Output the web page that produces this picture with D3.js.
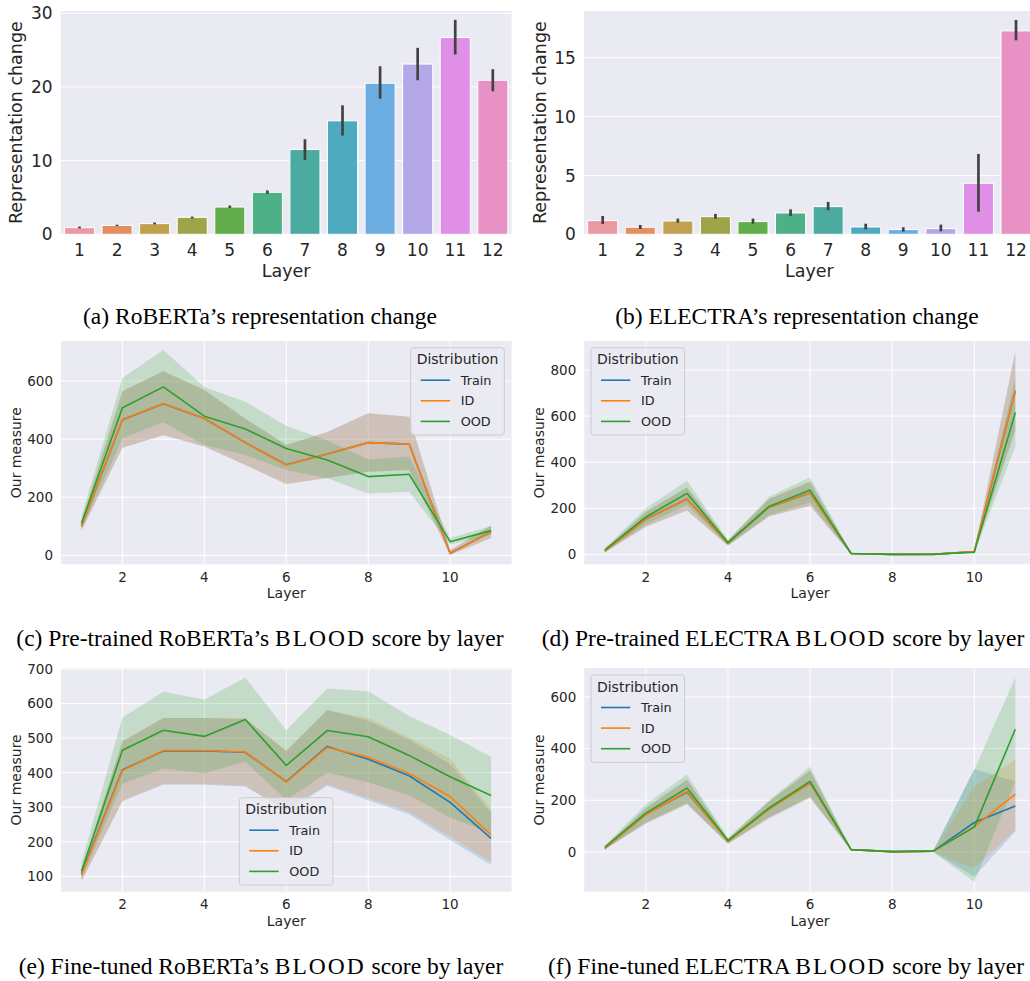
<!DOCTYPE html>
<html>
<head>
<meta charset="utf-8">
<script src="https://cdn.jsdelivr.net/npm/d3@7"></script>
<style>
  body { margin: 0; background: #fff; }
  svg { display: block; }
</style>
</head>
<body>
<div id="fig"></div>
<script>
// Six-panel figure: representation change bars + BLOOD score line plots

// ---- data ----
const barLayers = [1, 2, 3, 4, 5, 6, 7, 8, 9, 10, 11, 12];
const robertaChange   = [0.9, 1.2, 1.45, 2.3, 3.7, 5.7, 11.5, 15.4, 20.5, 23.1, 26.7, 20.9];
const robertaChangeLo = [0.8, 1.1, 1.35, 2.15, 3.55, 5.5, 10.1, 13.4, 18.4, 20.9, 24.4, 19.4];
const robertaChangeHi = [1.05, 1.3, 1.6, 2.4, 3.9, 5.95, 12.9, 17.5, 22.8, 25.3, 29.1, 22.4];
const electraChange   = [1.16, 0.6, 1.13, 1.5, 1.08, 1.81, 2.35, 0.62, 0.4, 0.48, 4.33, 17.27];
const electraChangeLo = [0.88, 0.45, 0.99, 1.33, 0.9, 1.56, 2.04, 0.42, 0.23, 0.25, 1.92, 16.47];
const electraChangeHi = [1.56, 0.79, 1.33, 1.73, 1.33, 2.12, 2.75, 0.9, 0.6, 0.82, 6.82, 18.2];

const lineLayers = [1, 2, 3, 4, 5, 6, 7, 8, 9, 10, 11];
const distributions = ["Train", "ID", "OOD"];

// (c) pre-trained RoBERTa
const ptRobTrain   = [101, 467, 522, 471, 388, 312, 349, 388, 383, 7, 81];
const ptRobTrainLo = [85, 370, 413, 375, 311, 246, 266, 288, 294, 1, 60];
const ptRobTrainHi = [118, 565, 634, 569, 470, 380, 425, 489, 477, 18, 102];
const ptRobID      = [101, 468, 523, 471, 388, 311, 349, 388, 383, 7, 81];
const ptRobIDLo    = [85, 370, 414, 375, 311, 245, 266, 288, 294, 1, 60];
const ptRobIDHi    = [118, 565, 634, 569, 470, 380, 425, 489, 477, 18, 103];
const ptRobOOD     = [110, 508, 580, 479, 435, 368, 328, 271, 279, 47, 85];
const ptRobOODLo   = [90, 403, 458, 380, 345, 294, 265, 213, 219, 37, 70];
const ptRobOODHi   = [135, 611, 707, 580, 529, 446, 395, 330, 340, 60, 100];

// (d) pre-trained ELECTRA
const ptEleTrain   = [14, 153, 240, 49, 205, 266, 4, 0, 0, 12, 710];
const ptEleTrainLo = [8, 120, 190, 38, 165, 210, 1, -3, -3, 8, 540];
const ptEleTrainHi = [20, 185, 290, 60, 240, 315, 7, 3, 3, 16, 880];
const ptEleID      = [14, 153, 240, 49, 205, 266, 4, 0, 0, 12, 710];
const ptEleIDLo    = [8, 120, 190, 38, 165, 210, 1, -3, -3, 8, 540];
const ptEleIDHi    = [20, 185, 290, 60, 240, 315, 7, 3, 3, 16, 880];
const ptEleOOD     = [20, 162, 265, 51, 208, 279, 4, 0, 1, 9, 616];
const ptEleOODLo   = [12, 130, 215, 40, 170, 225, 1, -4, -3, 5, 468];
const ptEleOODHi   = [28, 200, 320, 62, 250, 335, 7, 3, 4, 13, 766];

// (e) fine-tuned RoBERTa
const ftRobTrain   = [107, 408, 463, 463, 459, 374, 476, 439, 391, 314, 210];
const ftRobTrainLo = [85, 318, 365, 365, 360, 288, 362, 320, 280, 205, 133];
const ftRobTrainHi = [118, 490, 558, 558, 555, 462, 582, 550, 495, 425, 285];
const ftRobID      = [104, 406, 464, 464, 460, 373, 473, 445, 398, 331, 220];
const ftRobIDLo    = [85, 318, 368, 368, 362, 292, 366, 326, 287, 215, 142];
const ftRobIDHi    = [120, 492, 558, 558, 558, 465, 580, 558, 502, 440, 295];
const ftRobOOD     = [115, 465, 523, 505, 554, 421, 522, 504, 450, 388, 334];
const ftRobOODLo   = [92, 368, 412, 398, 432, 322, 400, 372, 335, 270, 225];
const ftRobOODHi   = [140, 560, 634, 612, 675, 523, 644, 636, 564, 509, 446];

// (f) fine-tuned ELECTRA
const ftEleTrain   = [14, 146, 232, 43, 167, 267, 9, 1, 3, 114, 178];
const ftEleTrainLo = [9, 110, 185, 32, 130, 210, 6, -2, 0, -96, 79];
const ftEleTrainHi = [20, 170, 280, 50, 195, 315, 11, 3, 5, 321, 273];
const ftEleID      = [14, 144, 235, 40, 166, 267, 9, 1, 3, 98, 224];
const ftEleIDLo    = [9, 110, 185, 32, 130, 210, 6, -2, 0, -63, 85];
const ftEleIDHi    = [20, 170, 280, 50, 195, 315, 11, 3, 5, 254, 358];
const ftEleOOD     = [19, 150, 247, 44, 170, 273, 9, 1, 3, 96, 475];
const ftEleOODLo   = [10, 115, 190, 33, 135, 215, 6, -2, 0, -115, 273];
const ftEleOODHi   = [25, 185, 300, 55, 200, 330, 12, 3, 5, 318, 675];

// tick values
const ticksA = [0, 10, 20, 30];
const ticksB = [0, 5, 10, 15];
const ticksC = [0, 200, 400, 600];
const ticksD = [0, 200, 400, 600, 800];
const ticksE = [100, 200, 300, 400, 500, 600, 700];
const ticksF = [0, 200, 400, 600];
const layerTicks = [2, 4, 6, 8, 10];

// ---- styles ----
const BG = "#eaeaf2";
const INK = "#262626";
// husl-like palette, already desaturated the way seaborn bars look
const barColors = ["#ea98a1", "#e3905e", "#c1a04f", "#9da548", "#62ae4a", "#4db086",
                   "#4baba1", "#4eaabe", "#6caee1", "#b4a7e8", "#df8fe6", "#e791c4"];
const lineColor = d3.scaleOrdinal().domain(distributions).range(["#1f77b4", "#ff7f0e", "#2ca02c"]);

const svg = d3.select("#fig").append("svg")
  .attr("width", 1030).attr("height", 981)
  .style("font-family", "'DejaVu Sans', sans-serif");

function hGrid(g, y, ticks, left, right) {
  g.append("g").selectAll("line").data(ticks).enter().append("line")
    .attr("x1", left).attr("x2", right)
    .attr("y1", d => y(d)).attr("y2", d => y(d))
    .attr("stroke", "#fff").attr("stroke-width", 1);
}

function yTickLabels(g, y, ticks, left, size) {
  g.append("g").selectAll("text").data(ticks).enter().append("text")
    .attr("x", left - 8).attr("y", d => y(d)).attr("dy", "0.36em")
    .attr("text-anchor", "end").attr("font-size", size).attr("fill", INK)
    .text(d => d);
}

function barPanel(p) {
  const g = svg.append("g");
  g.append("rect").attr("x", p.left).attr("y", p.top)
    .attr("width", p.right - p.left).attr("height", p.bottom - p.top).attr("fill", BG);

  const x = d3.scaleBand().domain(barLayers).range([p.left, p.right])
    .paddingInner(0.2).paddingOuter(0.1);
  const y = d3.scaleLinear().domain([0, p.yMax]).range([p.bottom, p.top]);

  hGrid(g, y, p.ticks, p.left, p.right);

  g.append("g").selectAll("rect").data(barLayers).enter().append("rect")
    .attr("x", d => x(d)).attr("width", x.bandwidth())
    .attr("y", (d, i) => y(p.values[i]))
    .attr("height", (d, i) => y(0) - y(p.values[i]))
    .attr("fill", (d, i) => barColors[i])
    .attr("stroke", "#fff").attr("stroke-width", 1);

  g.append("g").selectAll("line").data(barLayers).enter().append("line")
    .attr("x1", d => x(d) + x.bandwidth() / 2).attr("x2", d => x(d) + x.bandwidth() / 2)
    .attr("y1", (d, i) => y(p.lo[i])).attr("y2", (d, i) => y(p.hi[i]))
    .attr("stroke", "#424242").attr("stroke-width", 2.7);

  yTickLabels(g, y, p.ticks, p.left, 17);
  g.append("g").selectAll("text").data(barLayers).enter().append("text")
    .attr("x", d => x(d) + x.bandwidth() / 2).attr("y", p.bottom + 21.5)
    .attr("text-anchor", "middle").attr("font-size", 17).attr("fill", INK)
    .text(d => d);

  g.append("text").attr("x", (p.left + p.right) / 2).attr("y", p.bottom + 43)
    .attr("text-anchor", "middle").attr("font-size", 17.5).attr("fill", INK).text("Layer");
  g.append("text")
    .attr("transform", `translate(${p.ylabX},${(p.top + p.bottom) / 2}) rotate(-90)`)
    .attr("text-anchor", "middle").attr("font-size", 17.5).attr("fill", INK)
    .text("Representation change");
}

function linePanel(p) {
  const g = svg.append("g");
  const right = p.left + 11 * p.unit;
  g.append("rect").attr("x", p.left).attr("y", p.top)
    .attr("width", right - p.left).attr("height", p.bottom - p.top).attr("fill", BG);

  const x = d3.scaleLinear().domain([0.5, 11.5]).range([p.left, right]);
  const y = d3.scaleLinear().domain(p.yDomain).range([p.bottom, p.top]);

  hGrid(g, y, p.ticks, p.left, right);
  g.append("g").selectAll("line").data(layerTicks).enter().append("line")
    .attr("x1", d => x(d)).attr("x2", d => x(d))
    .attr("y1", p.top).attr("y2", p.bottom)
    .attr("stroke", "#fff").attr("stroke-width", 1);

  const area = d3.area()
    .x((d, i) => x(lineLayers[i]))
    .y0(d => y(d[0])).y1(d => y(d[1]));
  const line = d3.line()
    .x((d, i) => x(lineLayers[i]))
    .y(d => y(d));

  // bands below, lines on top (matplotlib z-order)
  p.series.forEach(s => {
    g.append("path").datum(s.lo.map((v, i) => [v, s.hi[i]]))
      .attr("d", area).attr("fill", lineColor(s.name)).attr("fill-opacity", 0.2);
  });
  p.series.forEach(s => {
    g.append("path").datum(s.mean)
      .attr("d", line).attr("fill", "none")
      .attr("stroke", lineColor(s.name)).attr("stroke-width", 1.6)
      .attr("stroke-linejoin", "round");
  });

  yTickLabels(g, y, p.ticks, p.left, 13.5);
  g.append("g").selectAll("text").data(layerTicks).enter().append("text")
    .attr("x", d => x(d)).attr("y", p.bottom + 17.5)
    .attr("text-anchor", "middle").attr("font-size", 13.5).attr("fill", INK)
    .text(d => d);
  g.append("text").attr("x", (p.left + right) / 2).attr("y", p.bottom + 34)
    .attr("text-anchor", "middle").attr("font-size", 14).attr("fill", INK).text("Layer");
  g.append("text")
    .attr("transform", `translate(${p.ylabX},${(p.top + p.bottom) / 2}) rotate(-90)`)
    .attr("text-anchor", "middle").attr("font-size", 14).attr("fill", INK)
    .text("Our measure");

  // legend
  const lg = g.append("g").attr("transform", `translate(${p.legend[0]},${p.legend[1]})`);
  lg.append("rect").attr("width", 93.6).attr("height", 87.3).attr("rx", 3)
    .attr("fill", BG).attr("fill-opacity", 0.8).attr("stroke", "#cccccc").attr("stroke-width", 1);
  lg.append("text").attr("x", 46.8).attr("y", 11.5).attr("dy", "0.36em")
    .attr("text-anchor", "middle").attr("font-size", 14).attr("fill", INK).text("Distribution");
  distributions.forEach((name, i) => {
    const cy = 32.5 + i * 20.6;
    lg.append("line").attr("x1", 10).attr("x2", 39.3).attr("y1", cy).attr("y2", cy)
      .attr("stroke", lineColor(name)).attr("stroke-width", 1.6);
    lg.append("text").attr("x", 50).attr("y", cy).attr("dy", "0.36em")
      .attr("font-size", 12.8).attr("fill", INK).text(name);
  });
}

function caption(cx, y, parts) {
  const t = svg.append("text").attr("x", cx).attr("y", y).attr("text-anchor", "middle")
    .attr("font-family", "'Liberation Serif', 'Times New Roman', serif")
    .attr("font-size", 23.5).attr("fill", "#000");
  parts.forEach(part => {
    const ts = t.append("tspan").text(part.text);
    if (part.spaced) ts.attr("letter-spacing", 2);
  });
}

// ---- panels ----
barPanel({ left: 60.7, right: 511.6, top: 11, bottom: 234.3, yMax: 30.3, ticks: ticksA,
  values: robertaChange, lo: robertaChangeLo, hi: robertaChangeHi, ylabX: 22 });
barPanel({ left: 583.9, right: 1034.8, top: 11, bottom: 234.3, yMax: 18.96, ticks: ticksB,
  values: electraChange, lo: electraChangeLo, hi: electraChangeHi, ylabX: 545.5 });

linePanel({ left: 61, unit: 40.96, top: 341, bottom: 564.3, yDomain: [-31, 738], ticks: ticksC,
  ylabX: 20.5, legend: [410.7, 347.7], series: [
    { name: "Train", mean: ptRobTrain, lo: ptRobTrainLo, hi: ptRobTrainHi },
    { name: "ID", mean: ptRobID, lo: ptRobIDLo, hi: ptRobIDHi },
    { name: "OOD", mean: ptRobOOD, lo: ptRobOODLo, hi: ptRobOODHi }] });
linePanel({ left: 584.3, unit: 41.05, top: 341, bottom: 564.3, yDomain: [-43, 926], ticks: ticksD,
  ylabX: 544, legend: [591, 347.7], series: [
    { name: "Train", mean: ptEleTrain, lo: ptEleTrainLo, hi: ptEleTrainHi },
    { name: "ID", mean: ptEleID, lo: ptEleIDLo, hi: ptEleIDHi },
    { name: "OOD", mean: ptEleOOD, lo: ptEleOODLo, hi: ptEleOODHi }] });
linePanel({ left: 61, unit: 40.96, top: 668, bottom: 891.7, yDomain: [55.5, 703], ticks: ticksE,
  ylabX: 20.5, legend: [239.3, 797.7], series: [
    { name: "Train", mean: ftRobTrain, lo: ftRobTrainLo, hi: ftRobTrainHi },
    { name: "ID", mean: ftRobID, lo: ftRobIDLo, hi: ftRobIDHi },
    { name: "OOD", mean: ftRobOOD, lo: ftRobOODLo, hi: ftRobOODHi }] });
linePanel({ left: 584.3, unit: 41.05, top: 668, bottom: 891.7, yDomain: [-154, 712], ticks: ticksF,
  ylabX: 544, legend: [591, 675], series: [
    { name: "Train", mean: ftEleTrain, lo: ftEleTrainLo, hi: ftEleTrainHi },
    { name: "ID", mean: ftEleID, lo: ftEleIDLo, hi: ftEleIDHi },
    { name: "OOD", mean: ftEleOOD, lo: ftEleOODLo, hi: ftEleOODHi }] });

// ---- captions ----
caption(260, 324, [{ text: "(a) RoBERTa\u2019s representation change" }]);
caption(797, 324, [{ text: "(b) ELECTRA\u2019s representation change" }]);
caption(260, 646, [{ text: "(c) Pre-trained RoBERTa\u2019s " }, { text: "BLOOD", spaced: true }, { text: " score by layer" }]);
caption(783, 646, [{ text: "(d) Pre-trained ELECTRA " }, { text: "BLOOD", spaced: true }, { text: " score by layer" }]);
caption(261, 974, [{ text: "(e) Fine-tuned RoBERTa\u2019s " }, { text: "BLOOD", spaced: true }, { text: " score by layer" }]);
caption(786, 974, [{ text: "(f) Fine-tuned ELECTRA " }, { text: "BLOOD", spaced: true }, { text: " score by layer" }]);
</script>
</body>
</html>
